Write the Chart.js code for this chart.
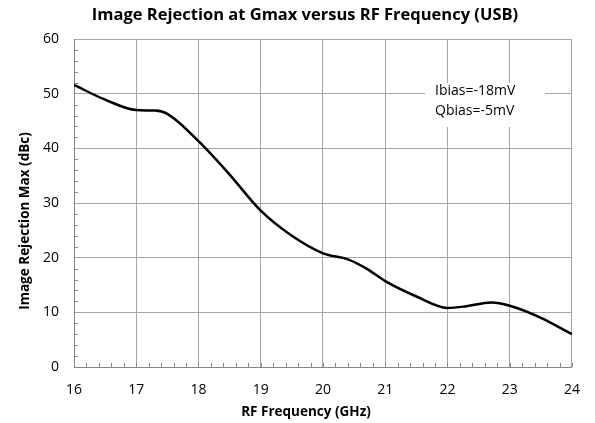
<!DOCTYPE html>
<html>
<head>
<meta charset="utf-8">
<script src="https://cdn.jsdelivr.net/npm/chart.js@4.4.0/dist/chart.umd.min.js"></script>
<style>
  html, body { margin: 0; padding: 0; background: #fff; }
  #wrap { width: 595px; height: 423px; }
</style>
</head>
<body>
<div id="wrap"><canvas id="canvas" width="595" height="423"></canvas></div>
<script>
var freqGHz = [16, 16.5, 17, 17.3, 17.5, 18, 18.5, 19, 19.5, 20, 20.4, 20.7, 21, 21.5, 22, 22.3, 22.7, 23, 23.5, 24];
var rejectionDbc = [51.6, 48.9, 47.0, 46.9, 46.3, 41.3, 35.2, 28.6, 24.0, 20.8, 19.7, 18.0, 15.7, 12.9, 10.8, 11.1, 11.8, 11.2, 9.0, 6.0];
var xTicks = [16, 17, 18, 19, 20, 21, 22, 23, 24];
var yTicks = [0, 10, 20, 30, 40, 50, 60];
var noteLines = ['Ibias=-18mV', 'Qbias=-5mV'];

var FONT = '"Open Sans", "Liberation Sans", sans-serif';
var GRID = '#a6a6a6';

var points = freqGHz.map(function (f, i) {
    return { x: f, y: rejectionDbc[i] };
});

// titles, minor ticks and the note box, drawn by hand like Excel places them
var decorations = {
    id: 'decorations',
    beforeDatasetsDraw: function (chart) {
        var ctx = chart.ctx;
        var xs = chart.scales.x, ys = chart.scales.y;
        var area = chart.chartArea;
        ctx.save();
        ctx.strokeStyle = '#868686';
        ctx.lineWidth = 1;
        ctx.beginPath();
        for (var v = 16.2; v < 24; v += 0.2) {
            var px = Math.round(xs.getPixelForValue(v)) + 0.5;
            ctx.moveTo(px, area.bottom);
            ctx.lineTo(px, area.bottom - 4);
        }
        for (var w = 2; w < 60; w += 2) {
            if (w % 10 === 0) continue;
            var py = Math.round(ys.getPixelForValue(w)) + 0.5;
            ctx.moveTo(area.left, py);
            ctx.lineTo(area.left + 4, py);
        }
        ctx.stroke();

        // note box
        ctx.fillStyle = '#fff';
        ctx.fillRect(425, 83, 120, 44);
        ctx.fillStyle = '#000';
        ctx.font = '14px ' + FONT;
        ctx.textAlign = 'left';
        ctx.textBaseline = 'middle';
        ctx.fillText(noteLines[0], 435, 91);
        ctx.fillText(noteLines[1], 435, 111);

        // titles
        ctx.font = 'bold 16.5px ' + FONT;
        ctx.textAlign = 'center';
        ctx.fillText('Image Rejection at Gmax versus RF Frequency (USB)', 305, 15);
        ctx.font = 'bold 13.5px ' + FONT;
        ctx.fillText('RF Frequency (GHz)', 306, 412);
        ctx.translate(25, 221);
        ctx.rotate(-Math.PI / 2);
        ctx.fillText('Image Rejection Max (dBc)', 0, 0);
        ctx.restore();
    }
};

new Chart(document.getElementById('canvas'), {
    type: 'line',
    data: {
        datasets: [{
            data: points,
            borderColor: '#000',
            borderWidth: 2.5,
            pointRadius: 0,
            fill: false,
            cubicInterpolationMode: 'monotone'
        }]
    },
    options: {
        responsive: false,
        animation: false,
        events: [],
        layout: { padding: { left: 0, right: 22, top: 39, bottom: 0 } },
        plugins: {
            legend: { display: false },
            tooltip: { enabled: false }
        },
        scales: {
            x: {
                type: 'linear',
                min: 16,
                max: 24,
                afterBuildTicks: function (scale) {
                    scale.ticks = xTicks.map(function (v) { return { value: v }; });
                },
                afterFit: function (scale) { scale.height = 56; },
                grid: { color: GRID, drawTicks: false },
                border: { color: '#868686' },
                ticks: { padding: 15, color: '#000', font: { family: FONT, size: 14 }, maxRotation: 0 }
            },
            y: {
                min: 0,
                max: 60,
                afterBuildTicks: function (scale) {
                    scale.ticks = yTicks.map(function (v) { return { value: v }; });
                },
                afterFit: function (scale) { scale.width = 74; },
                grid: { color: GRID, drawTicks: false },
                border: { color: '#868686' },
                ticks: { padding: 15, color: '#000', font: { family: FONT, size: 14 } }
            }
        }
    },
    plugins: [decorations]
});
</script>
</body>
</html>
